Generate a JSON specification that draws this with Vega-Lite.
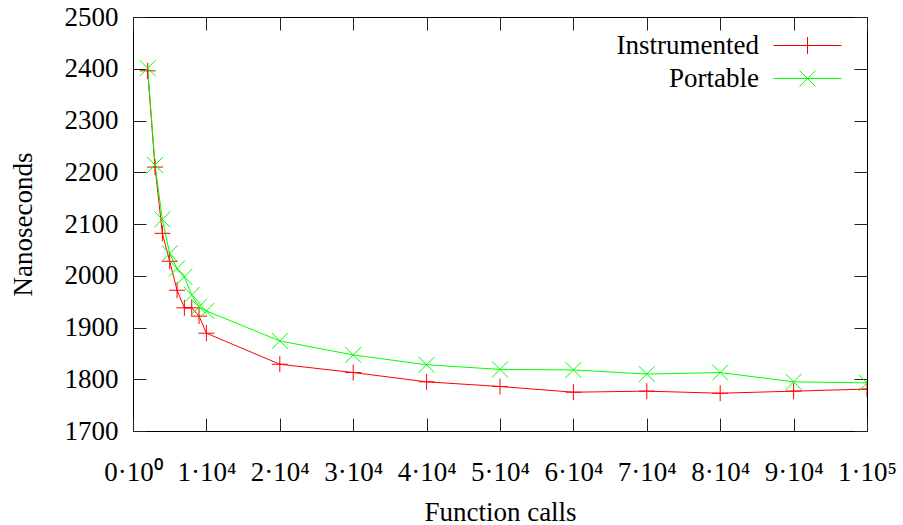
{
  "$schema": "https://vega.github.io/schema/vega-lite/v6.json",
  "width": 734,
  "height": 414,
  "autosize": "none",
  "padding": {"left": 133, "top": 17, "right": 36, "bottom": 94},
  "background": "white",
  "data": {
    "values": [
      {"series": "Instrumented", "calls": 2000, "ns": 2396},
      {"series": "Instrumented", "calls": 3000, "ns": 2210},
      {"series": "Instrumented", "calls": 4000, "ns": 2082},
      {"series": "Instrumented", "calls": 5000, "ns": 2028},
      {"series": "Instrumented", "calls": 6000, "ns": 1972},
      {"series": "Instrumented", "calls": 7000, "ns": 1938},
      {"series": "Instrumented", "calls": 8000, "ns": 1938},
      {"series": "Instrumented", "calls": 9000, "ns": 1922},
      {"series": "Instrumented", "calls": 10000, "ns": 1889},
      {"series": "Instrumented", "calls": 20000, "ns": 1829},
      {"series": "Instrumented", "calls": 30000, "ns": 1813},
      {"series": "Instrumented", "calls": 40000, "ns": 1795},
      {"series": "Instrumented", "calls": 50000, "ns": 1786},
      {"series": "Instrumented", "calls": 60000, "ns": 1775},
      {"series": "Instrumented", "calls": 70000, "ns": 1777},
      {"series": "Instrumented", "calls": 80000, "ns": 1773},
      {"series": "Instrumented", "calls": 90000, "ns": 1777},
      {"series": "Instrumented", "calls": 100000, "ns": 1781},
      {"series": "Portable", "calls": 2000, "ns": 2401},
      {"series": "Portable", "calls": 3000, "ns": 2214},
      {"series": "Portable", "calls": 4000, "ns": 2109},
      {"series": "Portable", "calls": 5000, "ns": 2043},
      {"series": "Portable", "calls": 6000, "ns": 2014},
      {"series": "Portable", "calls": 7000, "ns": 1998},
      {"series": "Portable", "calls": 8000, "ns": 1963},
      {"series": "Portable", "calls": 9000, "ns": 1940},
      {"series": "Portable", "calls": 10000, "ns": 1932},
      {"series": "Portable", "calls": 20000, "ns": 1874},
      {"series": "Portable", "calls": 30000, "ns": 1847},
      {"series": "Portable", "calls": 40000, "ns": 1828},
      {"series": "Portable", "calls": 50000, "ns": 1819},
      {"series": "Portable", "calls": 60000, "ns": 1818},
      {"series": "Portable", "calls": 70000, "ns": 1810},
      {"series": "Portable", "calls": 80000, "ns": 1813},
      {"series": "Portable", "calls": 90000, "ns": 1795},
      {"series": "Portable", "calls": 100000, "ns": 1793}
    ]
  },
  "layer": [
    {
      "mark": {"type": "line", "strokeWidth": 1, "clip": true},
      "encoding": {
        "x": {
          "field": "calls", "type": "quantitative",
          "scale": {"domain": [0, 100000], "nice": false, "zero": false},
          "axis": {
            "orient": "bottom",
            "values": [0, 10000, 20000, 30000, 40000, 50000, 60000, 70000, 80000, 90000, 100000],
            "labelExpr": "datum.value == 0 ? '0·10⁰' : (datum.value == 100000 ? '1·10⁵' : (datum.value / 10000) + '·10⁴')",
            "labelBaseline": "alphabetic",
            "labelPadding": 62,
            "labelFlush": false,
            "labelOverlap": false,
            "title": "Function calls",
            "titleX": 367,
            "titleY": 89,
            "titleBaseline": "alphabetic",
            "titleAlign": "center"
          }
        },
        "y": {
          "field": "ns", "type": "quantitative",
          "scale": {"domain": [1700, 2500], "nice": false, "zero": false},
          "axis": {
            "orient": "left",
            "values": [1700, 1800, 1900, 2000, 2100, 2200, 2300, 2400, 2500],
            "format": "d",
            "labelPadding": 28,
            "labelBaseline": "middle",
            "labelFlush": false,
            "labelOverlap": false,
            "title": "Nanoseconds",
            "titleX": -110,
            "titleY": 207,
            "titleAngle": 270,
            "titleAlign": "center",
            "titleBaseline": "middle"
          }
        },
        "color": {
          "field": "series", "type": "nominal",
          "scale": {"domain": ["Instrumented", "Portable"], "range": ["#ff0000", "#00ff00"]},
          "legend": null
        }
      }
    },
    {
      "mark": {"type": "point", "filled": false, "strokeWidth": 1, "size": 256, "opacity": 1, "clip": true},
      "encoding": {
        "x": {
          "field": "calls", "type": "quantitative",
          "axis": {"orient": "top", "values": [0, 10000, 20000, 30000, 40000, 50000, 60000, 70000, 80000, 90000, 100000], "labels": false, "title": null}
        },
        "y": {
          "field": "ns", "type": "quantitative",
          "axis": {"orient": "right", "values": [1700, 1800, 1900, 2000, 2100, 2200, 2300, 2400, 2500], "labels": false, "title": null}
        },
        "color": {
          "field": "series", "type": "nominal",
          "scale": {"domain": ["Instrumented", "Portable"], "range": ["#ff0000", "#00ff00"]},
          "legend": null
        },
        "shape": {
          "field": "series", "type": "nominal",
          "scale": {"domain": ["Instrumented", "Portable"], "range": ["M-1,0H1M0,-1V1", "M-1,-1L1,1M-1,1L1,-1"]},
          "legend": null
        }
      }
    },
    {
      "transform": [{"filter": "false"}],
      "mark": {"type": "point", "filled": false, "strokeWidth": 1, "size": 4624, "opacity": 1},
      "encoding": {
        "x": {"field": "calls", "type": "quantitative", "axis": null},
        "y": {"field": "ns", "type": "quantitative", "axis": null},
        "color": {
          "field": "series", "type": "nominal",
          "scale": {"domain": ["Instrumented"], "range": ["#ff0000"]},
          "legend": {
            "title": null, "orient": "none", "legendX": 640, "legendY": -6, "padding": 0,
            "labelAlign": "right", "labelOffset": -83,
            "labelFont": "Liberation Serif", "labelFontSize": 27, "labelColor": "black",
            "symbolSize": 4624, "symbolStrokeWidth": 1
          }
        },
        "shape": {
          "field": "series", "type": "nominal",
          "scale": {"domain": ["Instrumented"], "range": ["M-1,0H1M0,-0.25V0.25"]},
          "legend": {
            "title": null, "orient": "none", "legendX": 640, "legendY": -6, "padding": 0,
            "labelAlign": "right", "labelOffset": -83,
            "labelFont": "Liberation Serif", "labelFontSize": 27, "labelColor": "black",
            "symbolSize": 4624, "symbolStrokeWidth": 1
          }
        }
      }
    },
    {
      "transform": [{"filter": "false"}],
      "mark": {"type": "point", "filled": false, "strokeWidth": 1, "size": 4624, "opacity": 1},
      "encoding": {
        "x": {"field": "calls", "type": "quantitative", "axis": null},
        "y": {"field": "ns", "type": "quantitative", "axis": null},
        "color": {
          "field": "series", "type": "nominal",
          "scale": {"domain": ["Portable"], "range": ["#00ff00"]},
          "legend": {
            "title": null, "orient": "none", "legendX": 640, "legendY": 27, "padding": 0,
            "labelAlign": "right", "labelOffset": -83,
            "labelFont": "Liberation Serif", "labelFontSize": 27, "labelColor": "black",
            "symbolSize": 4624, "symbolStrokeWidth": 1
          }
        },
        "shape": {
          "field": "series", "type": "nominal",
          "scale": {"domain": ["Portable"], "range": ["M-1,0H1M-0.235,-0.235L0.235,0.235M-0.235,0.235L0.235,-0.235"]},
          "legend": {
            "title": null, "orient": "none", "legendX": 640, "legendY": 27, "padding": 0,
            "labelAlign": "right", "labelOffset": -83,
            "labelFont": "Liberation Serif", "labelFontSize": 27, "labelColor": "black",
            "symbolSize": 4624, "symbolStrokeWidth": 1
          }
        }
      }
    }
  ],
  "resolve": {
    "axis": {"x": "independent", "y": "independent"},
    "scale": {"color": "independent", "shape": "independent"}
  },
  "config": {
    "view": {"stroke": "black", "strokeWidth": 1},
    "axis": {
      "domain": false,
      "grid": false,
      "ticks": true,
      "tickColor": "#222222",
      "tickSize": -13,
      "tickWidth": 1,
      "labelFont": "Liberation Serif",
      "labelFontSize": 27,
      "labelColor": "black",
      "titleFont": "Liberation Serif",
      "titleFontSize": 27,
      "titleFontWeight": "normal",
      "titleColor": "black"
    }
  }
}
